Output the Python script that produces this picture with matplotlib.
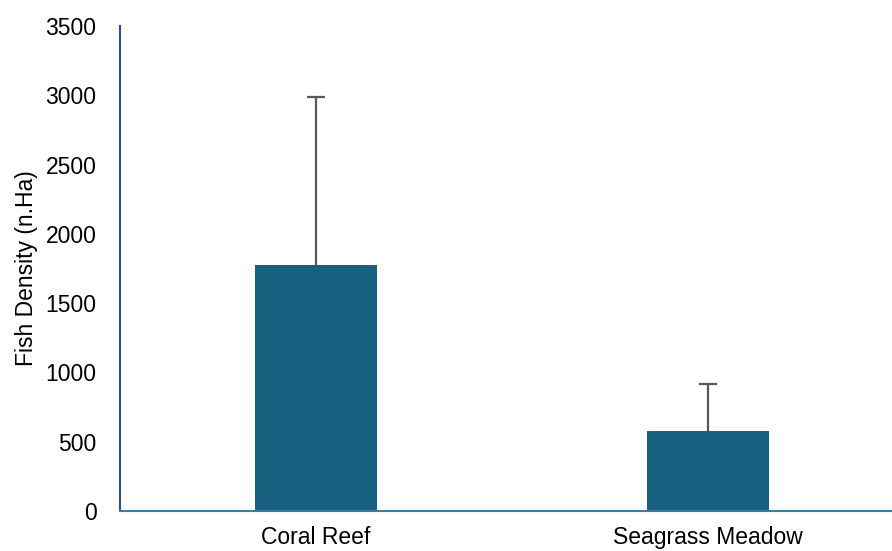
import matplotlib
matplotlib.use('Agg')
import matplotlib.pyplot as plt
import numpy as np

categories = ['Coral Reef', 'Seagrass Meadow']
density = [1778, 578]
err_upper = [1208, 340]

plt.rcParams['font.family'] = ['Liberation Sans', 'DejaVu Sans']

fig = plt.figure(figsize=(8.92, 5.51), dpi=100)
# axes runs past the right edge like the original
ax = fig.add_axes([120/892, 40/551, 784/892, 485/551])

x = np.arange(len(categories))
ax.bar(x, density, width=0.31, color='#18607f', zorder=2)
eb = ax.errorbar(x, density, yerr=[np.zeros(len(x)), err_upper], fmt='none',
                 ecolor='#595959', elinewidth=1.6, capsize=6.5, capthick=1.6, zorder=3)
eb[1][0].set_visible(False)  # only the upper cap

ax.set_xlim(-0.5, 1.5)
ax.set_ylim(0, 3500)
ax.set_yticks(np.arange(0, 3501, 500))
ax.set_xticks(x)
ax.set_xticklabels(categories)
ax.tick_params(axis='both', length=0, labelsize=16.5)
ax.tick_params(axis='y', pad=17)
ax.tick_params(axis='x', pad=11)
ax.set_ylabel('Fish Density (n.Ha)', fontsize=16.5, labelpad=5)

for s in ['top', 'right']:
    ax.spines[s].set_visible(False)
ax.spines['left'].set_color('#2f4a8a')
ax.spines['left'].set_linewidth(1.5)
ax.spines['bottom'].set_color('#3f7aa0')
ax.spines['bottom'].set_linewidth(1.5)

fig.savefig('out.png', dpi=100)
